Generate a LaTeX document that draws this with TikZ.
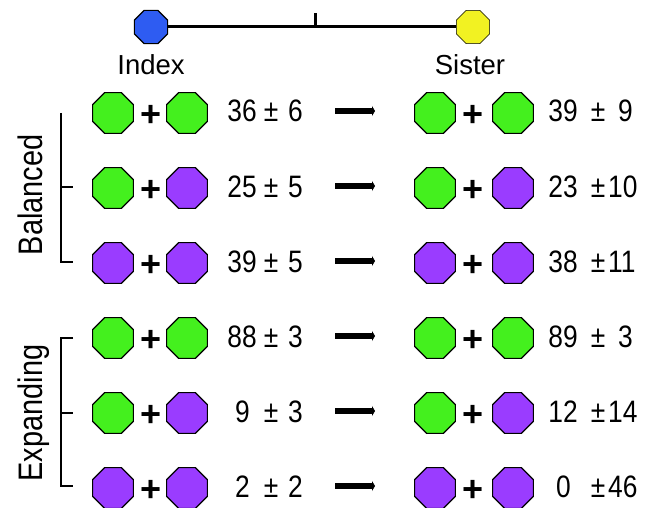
\documentclass[tikz,border=0pt]{standalone}
\usepackage{fontspec}
\setmainfont{Liberation Sans}
\newfontfamily\narrowfont[FakeStretch=0.85]{Liberation Sans}
\usetikzlibrary{shapes.geometric,arrows.meta}
\definecolor{cgreen}{HTML}{44F01E}
\definecolor{cpurple}{HTML}{9A3CFF}
\definecolor{cblue}{HTML}{2E5CF2}
\definecolor{cyellow}{HTML}{F2F222}
\tikzset{
  dot/.style={regular polygon, regular polygon sides=8, minimum size=44pt,
    inner sep=0pt, draw=black, line width=1.1pt},
  conn/.style={line width=3pt, black},
  brk/.style={line width=2.3pt, black},
  arr/.style={line width=6pt, black, -{Triangle[length=3pt,width=10pt]}},
  num/.style={inner sep=0pt, font=\narrowfont\fontsize{31}{36}\selectfont},
  plus/.style={inner sep=0pt, font=\bfseries\fontsize{36}{40}\selectfont, anchor=center},
  lab/.style={inner sep=0pt, font=\fontsize{27.5}{32}\selectfont, anchor=base},
  side/.style={inner sep=0pt, font=\narrowfont\fontsize{34}{40}\selectfont, rotate=90, anchor=base},
}
\begin{document}
\begin{tikzpicture}[x=1pt,y=-1pt]
\useasboundingbox (0,0) rectangle (645,508);
% top
\node[dot, fill=cblue, minimum size=36pt] (idx) at (151,27) {};
\node[dot, fill=cyellow, minimum size=36pt, line width=0.6pt] (sis) at (473,27) {};
\draw[conn] (idx) -- (sis);
\coordinate (mid) at (315,27);
\coordinate (tick) at (315,13);
\draw[conn] (mid) -- (tick);
\node[lab] (idxl) at (151,75) {Index};
\node[lab] (sisl) at (470,75) {Sister};
% rows
\foreach \i/\y/\ca/\cb/\la/\lb/\lx/\ra/\rb/\rx/\rbx in {
  1/111/cgreen/cgreen/36/6/257/39/9/578/618,
  2/186/cgreen/cpurple/25/5/257/23/10/578/608,
  3/261/cpurple/cpurple/39/5/257/38/11/578/608,
  4/336/cgreen/cgreen/88/3/257/89/3/578/618,
  5/411/cgreen/cpurple/9/3/250/12/14/578/608,
  6/486/cpurple/cpurple/2/2/250/0/46/571/608}{
  \node[dot, fill=\ca] (la\i) at (113,\y+2) {};
  \node[plus] (lp\i) at (151,\y+5) {+};
  \node[dot, fill=\cb] (lb\i) at (187,\y+2) {};
  \node[num, anchor=base east] (ln\i) at (\lx,\y+11) {\la};
  \node[num, anchor=base] (lpm\i) at (271,\y+11) {±};
  \node[num, anchor=base west] (le\i) at (288,\y+11) {\lb};
  \coordinate (as\i) at (335,\y);
  \coordinate (ae\i) at (375,\y);
  \draw[arr] (as\i) -- (ae\i);
  \node[dot, fill=\ca] (ra\i) at (435,\y+2) {};
  \node[plus] (rp\i) at (473,\y+5) {+};
  \node[dot, fill=\cb] (rb\i) at (513,\y+2) {};
  \node[num, anchor=base east] (rn\i) at (\rx,\y+11) {\ra};
  \node[num, anchor=base] (rpm\i) at (598,\y+11) {±};
  \node[num, anchor=base west] (re\i) at (\rbx,\y+11) {\rb};
}
% brackets
\coordinate (bt) at (61,113);
\coordinate (bm) at (61,187);
\coordinate (bme) at (73,187);
\coordinate (bb) at (61,262);
\coordinate (bbe) at (73,262);
\draw[brk] (bt) -- (bb) -- (bbe);
\draw[brk] (bm) -- (bme);
\coordinate (et) at (61,338);
\coordinate (ete) at (73,338);
\coordinate (em) at (61,413);
\coordinate (eme) at (73,413);
\coordinate (eb) at (61,486);
\coordinate (ebe) at (73,486);
\draw[brk] (ete) -- (et) -- (eb) -- (ebe);
\draw[brk] (em) -- (eme);
\node[side] (bal) at (42,195) {Balanced};
\node[side] (exp) at (42,413) {Expanding};
\end{tikzpicture}
\end{document}
